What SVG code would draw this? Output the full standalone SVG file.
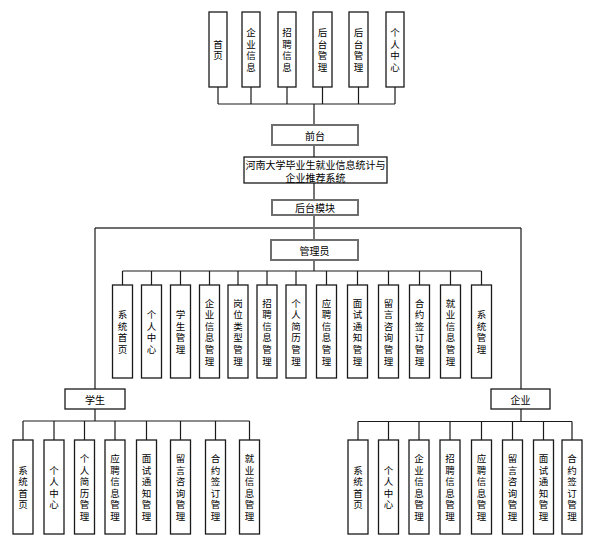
<svg xmlns="http://www.w3.org/2000/svg" width="594" height="539" viewBox="0 0 594 539">
<style>
.b{fill:#fff;stroke:#1a1a1a;stroke-width:1.3}
.g{fill:#fff;stroke:#6e6e6e;stroke-width:2}
.t{font-family:"Noto Sans CJK SC","Noto Sans",sans-serif;font-size:10px;fill:#000;text-anchor:middle;dominant-baseline:central}
.t tspan{font-size:9.5px}
.c{fill:none;stroke:#1a1a1a;stroke-width:1.2}
.cg{fill:none;stroke:#6e6e6e;stroke-width:2}
</style>
<rect width="594" height="539" fill="#fff"/>
<g id="connectors">
<path class="c" d="M218 87V104M251 87V104M287 87V104M322.5 87V104M358.5 87V104M395 87V104M218 104H395M314 104V125"/>
<path class="c" d="M314 145V157M314 183V200M314 215V228M314 228V240"/>
<path class="cg" d="M95 228H521"/>
<path class="c" d="M95 228V389M521 228V389"/>
<path class="c" d="M314 260V271M122.5 271H481.5M122.5 271V285M151.5 271V285M180.5 271V285M209.5 271V285M238 271V285M267 271V285M296 271V285M326.5 271V285M357.5 271V285M388.5 271V285M419.5 271V285M450.5 271V285M481.5 271V285"/>
<path class="c" d="M95 409V421M23 421H249.5M23 421V440M54 421V440M84.5 421V440M115 421V440M146.5 421V440M180.5 421V440M215.5 421V440M249.5 421V440"/>
<path class="c" d="M521 409V421.5M358 421.5H572M358 421.5V440M388.5 421.5V440M419 421.5V440M450 421.5V440M481.5 421.5V440M512.5 421.5V440M543.5 421.5V440M572 421.5V440"/>
</g>
<g id="top1"><rect class="b" x="209" y="12" width="18" height="75"/><text class="t"><tspan x="218" y="43.7">首</tspan><tspan x="218" y="55.3">页</tspan></text></g>
<g id="top2"><rect class="b" x="242" y="12" width="18" height="75"/><text class="t"><tspan x="251" y="32.1">企</tspan><tspan x="251" y="43.7">业</tspan><tspan x="251" y="55.3">信</tspan><tspan x="251" y="66.9">息</tspan></text></g>
<g id="top3"><rect class="b" x="278" y="12" width="18" height="75"/><text class="t"><tspan x="287" y="32.1">招</tspan><tspan x="287" y="43.7">聘</tspan><tspan x="287" y="55.3">信</tspan><tspan x="287" y="66.9">息</tspan></text></g>
<g id="top4"><rect class="b" x="313" y="12" width="19" height="75"/><text class="t"><tspan x="322.5" y="32.1">后</tspan><tspan x="322.5" y="43.7">台</tspan><tspan x="322.5" y="55.3">管</tspan><tspan x="322.5" y="66.9">理</tspan></text></g>
<g id="top5"><rect class="b" x="349" y="12" width="19" height="75"/><text class="t"><tspan x="358.5" y="32.1">后</tspan><tspan x="358.5" y="43.7">台</tspan><tspan x="358.5" y="55.3">管</tspan><tspan x="358.5" y="66.9">理</tspan></text></g>
<g id="top6"><rect class="b" x="386" y="12" width="18" height="75"/><text class="t"><tspan x="395" y="32.1">个</tspan><tspan x="395" y="43.7">人</tspan><tspan x="395" y="55.3">中</tspan><tspan x="395" y="66.9">心</tspan></text></g>
<g id="qiantai"><rect class="g" x="272" y="125" width="86" height="20"/><text class="t" x="315" y="135">前台</text></g>
<g id="system"><rect class="b" x="244" y="157" width="143" height="26"/><text class="t" x="315.5" y="164">河南大学毕业生就业信息统计与</text><text class="t" x="315.5" y="177">企业推荐系统</text></g>
<g id="houtai"><rect class="g" x="272" y="200" width="86" height="15"/><text class="t" x="315" y="207.5">后台模块</text></g>
<g id="admin"><rect class="g" x="271" y="240" width="87" height="20"/><text class="t" x="314.5" y="250">管理员</text></g>
<g id="a1"><rect class="b" x="112.5" y="285" width="20" height="93"/><text class="t"><tspan x="122.5" y="314.1">系</tspan><tspan x="122.5" y="325.7">统</tspan><tspan x="122.5" y="337.3">首</tspan><tspan x="122.5" y="348.9">页</tspan></text></g>
<g id="a2"><rect class="b" x="141.5" y="285" width="20" height="93"/><text class="t"><tspan x="151.5" y="314.1">个</tspan><tspan x="151.5" y="325.7">人</tspan><tspan x="151.5" y="337.3">中</tspan><tspan x="151.5" y="348.9">心</tspan></text></g>
<g id="a3"><rect class="b" x="170.5" y="285" width="20" height="93"/><text class="t"><tspan x="180.5" y="314.1">学</tspan><tspan x="180.5" y="325.7">生</tspan><tspan x="180.5" y="337.3">管</tspan><tspan x="180.5" y="348.9">理</tspan></text></g>
<g id="a4"><rect class="b" x="199.5" y="285" width="20" height="93"/><text class="t"><tspan x="209.5" y="302.5">企</tspan><tspan x="209.5" y="314.1">业</tspan><tspan x="209.5" y="325.7">信</tspan><tspan x="209.5" y="337.3">息</tspan><tspan x="209.5" y="348.9">管</tspan><tspan x="209.5" y="360.5">理</tspan></text></g>
<g id="a5"><rect class="b" x="228" y="285" width="20" height="93"/><text class="t"><tspan x="238" y="302.5">岗</tspan><tspan x="238" y="314.1">位</tspan><tspan x="238" y="325.7">类</tspan><tspan x="238" y="337.3">型</tspan><tspan x="238" y="348.9">管</tspan><tspan x="238" y="360.5">理</tspan></text></g>
<g id="a6"><rect class="b" x="257" y="285" width="20" height="93"/><text class="t"><tspan x="267" y="302.5">招</tspan><tspan x="267" y="314.1">聘</tspan><tspan x="267" y="325.7">信</tspan><tspan x="267" y="337.3">息</tspan><tspan x="267" y="348.9">管</tspan><tspan x="267" y="360.5">理</tspan></text></g>
<g id="a7"><rect class="b" x="286" y="285" width="20" height="93"/><text class="t"><tspan x="296" y="302.5">个</tspan><tspan x="296" y="314.1">人</tspan><tspan x="296" y="325.7">简</tspan><tspan x="296" y="337.3">历</tspan><tspan x="296" y="348.9">管</tspan><tspan x="296" y="360.5">理</tspan></text></g>
<g id="a8"><rect class="b" x="316.5" y="285" width="20" height="93"/><text class="t"><tspan x="326.5" y="302.5">应</tspan><tspan x="326.5" y="314.1">聘</tspan><tspan x="326.5" y="325.7">信</tspan><tspan x="326.5" y="337.3">息</tspan><tspan x="326.5" y="348.9">管</tspan><tspan x="326.5" y="360.5">理</tspan></text></g>
<g id="a9"><rect class="b" x="347.5" y="285" width="20" height="93"/><text class="t"><tspan x="357.5" y="302.5">面</tspan><tspan x="357.5" y="314.1">试</tspan><tspan x="357.5" y="325.7">通</tspan><tspan x="357.5" y="337.3">知</tspan><tspan x="357.5" y="348.9">管</tspan><tspan x="357.5" y="360.5">理</tspan></text></g>
<g id="a10"><rect class="b" x="378.5" y="285" width="20" height="93"/><text class="t"><tspan x="388.5" y="302.5">留</tspan><tspan x="388.5" y="314.1">言</tspan><tspan x="388.5" y="325.7">咨</tspan><tspan x="388.5" y="337.3">询</tspan><tspan x="388.5" y="348.9">管</tspan><tspan x="388.5" y="360.5">理</tspan></text></g>
<g id="a11"><rect class="b" x="409.5" y="285" width="20" height="93"/><text class="t"><tspan x="419.5" y="302.5">合</tspan><tspan x="419.5" y="314.1">约</tspan><tspan x="419.5" y="325.7">签</tspan><tspan x="419.5" y="337.3">订</tspan><tspan x="419.5" y="348.9">管</tspan><tspan x="419.5" y="360.5">理</tspan></text></g>
<g id="a12"><rect class="b" x="440.5" y="285" width="20" height="93"/><text class="t"><tspan x="450.5" y="302.5">就</tspan><tspan x="450.5" y="314.1">业</tspan><tspan x="450.5" y="325.7">信</tspan><tspan x="450.5" y="337.3">息</tspan><tspan x="450.5" y="348.9">管</tspan><tspan x="450.5" y="360.5">理</tspan></text></g>
<g id="a13"><rect class="b" x="471.5" y="285" width="20" height="93"/><text class="t"><tspan x="481.5" y="314.1">系</tspan><tspan x="481.5" y="325.7">统</tspan><tspan x="481.5" y="337.3">管</tspan><tspan x="481.5" y="348.9">理</tspan></text></g>
<g id="student"><rect class="b" x="65" y="389" width="60" height="20"/><text class="t" x="95" y="399">学生</text></g>
<g id="s1"><rect class="b" x="13" y="440" width="20" height="94"/><text class="t"><tspan x="23" y="469.6">系</tspan><tspan x="23" y="481.2">统</tspan><tspan x="23" y="492.8">首</tspan><tspan x="23" y="504.4">页</tspan></text></g>
<g id="s2"><rect class="b" x="44" y="440" width="20" height="94"/><text class="t"><tspan x="54" y="469.6">个</tspan><tspan x="54" y="481.2">人</tspan><tspan x="54" y="492.8">中</tspan><tspan x="54" y="504.4">心</tspan></text></g>
<g id="s3"><rect class="b" x="74.5" y="440" width="20" height="94"/><text class="t"><tspan x="84.5" y="458">个</tspan><tspan x="84.5" y="469.6">人</tspan><tspan x="84.5" y="481.2">简</tspan><tspan x="84.5" y="492.8">历</tspan><tspan x="84.5" y="504.4">管</tspan><tspan x="84.5" y="516">理</tspan></text></g>
<g id="s4"><rect class="b" x="105" y="440" width="20" height="94"/><text class="t"><tspan x="115" y="458">应</tspan><tspan x="115" y="469.6">聘</tspan><tspan x="115" y="481.2">信</tspan><tspan x="115" y="492.8">息</tspan><tspan x="115" y="504.4">管</tspan><tspan x="115" y="516">理</tspan></text></g>
<g id="s5"><rect class="b" x="136.5" y="440" width="20" height="94"/><text class="t"><tspan x="146.5" y="458">面</tspan><tspan x="146.5" y="469.6">试</tspan><tspan x="146.5" y="481.2">通</tspan><tspan x="146.5" y="492.8">知</tspan><tspan x="146.5" y="504.4">管</tspan><tspan x="146.5" y="516">理</tspan></text></g>
<g id="s6"><rect class="b" x="170.5" y="440" width="20" height="94"/><text class="t"><tspan x="180.5" y="458">留</tspan><tspan x="180.5" y="469.6">言</tspan><tspan x="180.5" y="481.2">咨</tspan><tspan x="180.5" y="492.8">询</tspan><tspan x="180.5" y="504.4">管</tspan><tspan x="180.5" y="516">理</tspan></text></g>
<g id="s7"><rect class="b" x="205.5" y="440" width="20" height="94"/><text class="t"><tspan x="215.5" y="458">合</tspan><tspan x="215.5" y="469.6">约</tspan><tspan x="215.5" y="481.2">签</tspan><tspan x="215.5" y="492.8">订</tspan><tspan x="215.5" y="504.4">管</tspan><tspan x="215.5" y="516">理</tspan></text></g>
<g id="s8"><rect class="b" x="239.5" y="440" width="20" height="94"/><text class="t"><tspan x="249.5" y="458">就</tspan><tspan x="249.5" y="469.6">业</tspan><tspan x="249.5" y="481.2">信</tspan><tspan x="249.5" y="492.8">息</tspan><tspan x="249.5" y="504.4">管</tspan><tspan x="249.5" y="516">理</tspan></text></g>
<g id="enterprise"><rect class="b" x="491" y="389" width="59" height="20"/><text class="t" x="520.5" y="399">企业</text></g>
<g id="e1"><rect class="b" x="348" y="440" width="20" height="94"/><text class="t"><tspan x="358" y="469.6">系</tspan><tspan x="358" y="481.2">统</tspan><tspan x="358" y="492.8">首</tspan><tspan x="358" y="504.4">页</tspan></text></g>
<g id="e2"><rect class="b" x="378.5" y="440" width="20" height="94"/><text class="t"><tspan x="388.5" y="469.6">个</tspan><tspan x="388.5" y="481.2">人</tspan><tspan x="388.5" y="492.8">中</tspan><tspan x="388.5" y="504.4">心</tspan></text></g>
<g id="e3"><rect class="b" x="409" y="440" width="20" height="94"/><text class="t"><tspan x="419" y="458">企</tspan><tspan x="419" y="469.6">业</tspan><tspan x="419" y="481.2">信</tspan><tspan x="419" y="492.8">息</tspan><tspan x="419" y="504.4">管</tspan><tspan x="419" y="516">理</tspan></text></g>
<g id="e4"><rect class="b" x="440" y="440" width="20" height="94"/><text class="t"><tspan x="450" y="458">招</tspan><tspan x="450" y="469.6">聘</tspan><tspan x="450" y="481.2">信</tspan><tspan x="450" y="492.8">息</tspan><tspan x="450" y="504.4">管</tspan><tspan x="450" y="516">理</tspan></text></g>
<g id="e5"><rect class="b" x="471.5" y="440" width="20" height="94"/><text class="t"><tspan x="481.5" y="458">应</tspan><tspan x="481.5" y="469.6">聘</tspan><tspan x="481.5" y="481.2">信</tspan><tspan x="481.5" y="492.8">息</tspan><tspan x="481.5" y="504.4">管</tspan><tspan x="481.5" y="516">理</tspan></text></g>
<g id="e6"><rect class="b" x="502.5" y="440" width="20" height="94"/><text class="t"><tspan x="512.5" y="458">留</tspan><tspan x="512.5" y="469.6">言</tspan><tspan x="512.5" y="481.2">咨</tspan><tspan x="512.5" y="492.8">询</tspan><tspan x="512.5" y="504.4">管</tspan><tspan x="512.5" y="516">理</tspan></text></g>
<g id="e7"><rect class="b" x="533.5" y="440" width="20" height="94"/><text class="t"><tspan x="543.5" y="458">面</tspan><tspan x="543.5" y="469.6">试</tspan><tspan x="543.5" y="481.2">通</tspan><tspan x="543.5" y="492.8">知</tspan><tspan x="543.5" y="504.4">管</tspan><tspan x="543.5" y="516">理</tspan></text></g>
<g id="e8"><rect class="b" x="562" y="440" width="20" height="94"/><text class="t"><tspan x="572" y="458">合</tspan><tspan x="572" y="469.6">约</tspan><tspan x="572" y="481.2">签</tspan><tspan x="572" y="492.8">订</tspan><tspan x="572" y="504.4">管</tspan><tspan x="572" y="516">理</tspan></text></g>
</svg>
